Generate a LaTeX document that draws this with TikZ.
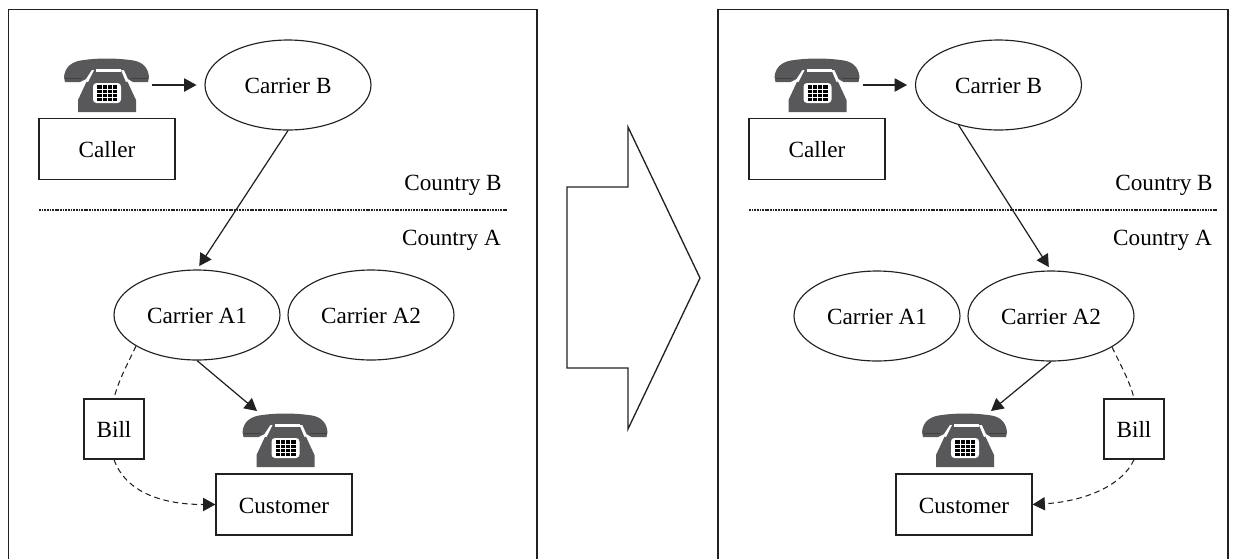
\documentclass[tikz,border=0pt]{standalone}
\usepackage{fontspec}
\setmainfont{Liberation Serif}
\usetikzlibrary{arrows.meta,shapes.geometric}
\definecolor{phonegray}{RGB}{88,88,90}
\definecolor{linegray}{RGB}{35,32,32}
\tikzset{
  labeltext/.style={font=\fontsize{13.2}{15}\selectfont,text height=9.8pt,text depth=0pt},
  carrier/.style={labeltext,draw=linegray,line width=0.65pt,ellipse,inner sep=0pt,minimum width=3.32cm,minimum height=1.8cm},
  labelbox/.style={labeltext,draw=linegray,line width=0.7pt,inner sep=0pt,minimum width=2.72cm,minimum height=1.22cm},
  billbox/.style={labeltext,draw=linegray,line width=0.7pt,inner sep=0pt,minimum size=1.2cm},
  country/.style={labeltext},
  conn/.style={draw=linegray,line width=0.7pt,-{Triangle[length=7pt,width=7.5pt]}},
  dashconn/.style={draw=linegray,line width=0.6pt,dash pattern=on 3.2pt off 2.2pt},
  border/.style={draw=linegray,line width=0.75pt},
  divider/.style={draw=linegray,line width=0.6pt,dash pattern=on 1pt off 0.5pt},
  pics/phone/.style={code={
    \fill[phonegray] (-28,27) -- (-28,15) -- (-14,-15) -- (16,-15) -- (30,15) -- (30,27) -- cycle;
    \fill[phonegray] (-42,-8) .. controls (-41,-19) and (-33,-24) .. (-22,-25) .. controls (-8,-27) and (9,-27) .. (24,-25) .. controls (35,-24) and (42,-19) .. (43,-8) -- (42,-3) -- (27,-3) -- (22,-6) -- (18,-15) -- (-14,-15) -- (-20,-6) -- (-26,-3) -- (-41,-3) -- cycle;
    \fill[white] (-10,-16) rectangle (15,-13);
    \fill[white] (-21,-4) -- (-14,-15) -- (-12,-15) -- (-18,-3) -- cycle;
    \fill[white] (22,-4) -- (17,-15) -- (15,-15) -- (20,-3) -- cycle;
    \draw[black!75,line width=0.5pt] (-41,-7) -- (-24,-7) (25,-7) -- (42,-7);
    \fill[white,rounded corners=2pt] (-13,-2) rectangle (15,18);
    \fill[black] (-9,0) rectangle (11,16);
    \foreach \i in {-4,1,6} \draw[white,line width=0.4pt] (\i,0) -- (\i,16);
    \foreach \j in {4,8,12} \draw[white,line width=0.4pt] (-9,\j) -- (11,\j);
    \coordinate (-r) at (46,0);
    \coordinate (-tl) at (-27.5,-29);
    \coordinate (-tr) at (27,-29);
  }}
}
\begin{document}
\begin{tikzpicture}[x=0.02cm,y=-0.02cm]
  \useasboundingbox (0,0) rectangle (1245,559);
  \draw[border] (8.5,559) -- (8.5,9.5) -- (537,9.5) -- (537,559);
  \draw[border] (718,559) -- (718,9.5) -- (1228,9.5) -- (1228,559);
  \draw[border] (567,187) -- (628,187) -- (628,127) -- (700,278) -- (628,429) -- (628,368) -- (567,368) -- cycle;

  \pic (callerphoneL) at (106,85) {phone};
  \node[carrier] (carrierBL) at (288,85) {Carrier B};
  \node[labelbox] (callerL) at (107,149) {Caller};
  \node[country] at (453,181.5) {Country B};
  \node[country] at (451.5,236.5) {Country A};
  \draw[divider] (39,210) -- (507,210);
  \node[carrier] (carrierAoneL) at (197,315) {Carrier A1};
  \node[carrier] (carrierAtwoL) at (371,315) {Carrier A2};
  \pic (customerphoneL) at (284.5,440) {phone};
  \node[labelbox] (customerL) at (284,504.5) {Customer};
  \node[billbox] (billL) at (114,429) {Bill};
  \draw[conn,shorten >=4.5pt] (callerphoneL-r) -- (carrierBL.west);
  \draw[conn,shorten >=2.3pt] (carrierBL.south) -- (carrierAoneL.north);
  \draw[conn] (carrierAoneL.south) -- (customerphoneL-tl);
  \draw[dashconn] (carrierAoneL.207) .. controls +(-8,17) and +(4,-17) .. (billL.north);
  \draw[dashconn,-{Triangle[length=7pt,width=7.5pt]}] (billL.south) .. controls +(11,31) and +(-56,0) .. (customerL.west);

  \pic (callerphoneR) at (816.5,85) {phone};
  \node[carrier] (carrierBR) at (998.5,85) {Carrier B};
  \node[labelbox] (callerR) at (817,149) {Caller};
  \node[country] at (1164,181.5) {Country B};
  \node[country] at (1162.5,236.5) {Country A};
  \draw[divider] (749,210) -- (1218,210);
  \node[carrier] (carrierAoneR) at (877,316) {Carrier A1};
  \node[carrier] (carrierAtwoR) at (1051,316) {Carrier A2};
  \pic (customerphoneR) at (964,440) {phone};
  \node[labelbox] (customerR) at (964,504.5) {Customer};
  \node[billbox] (billR) at (1134,429) {Bill};
  \draw[conn,shorten >=4.5pt] (callerphoneR-r) -- (carrierBR.west);
  \draw[conn,shorten >=2.3pt] (carrierBR.225) -- (carrierAtwoR.north);
  \draw[conn] (carrierAtwoR.south) -- (customerphoneR-tr);
  \draw[dashconn] (carrierAtwoR.333) .. controls +(8,17) and +(-4,-17) .. (billR.north);
  \draw[dashconn,-{Triangle[length=7pt,width=7.5pt]}] (billR.south) .. controls +(-12,27) and +(50,-3) .. (customerR.east);
\end{tikzpicture}
\end{document}
